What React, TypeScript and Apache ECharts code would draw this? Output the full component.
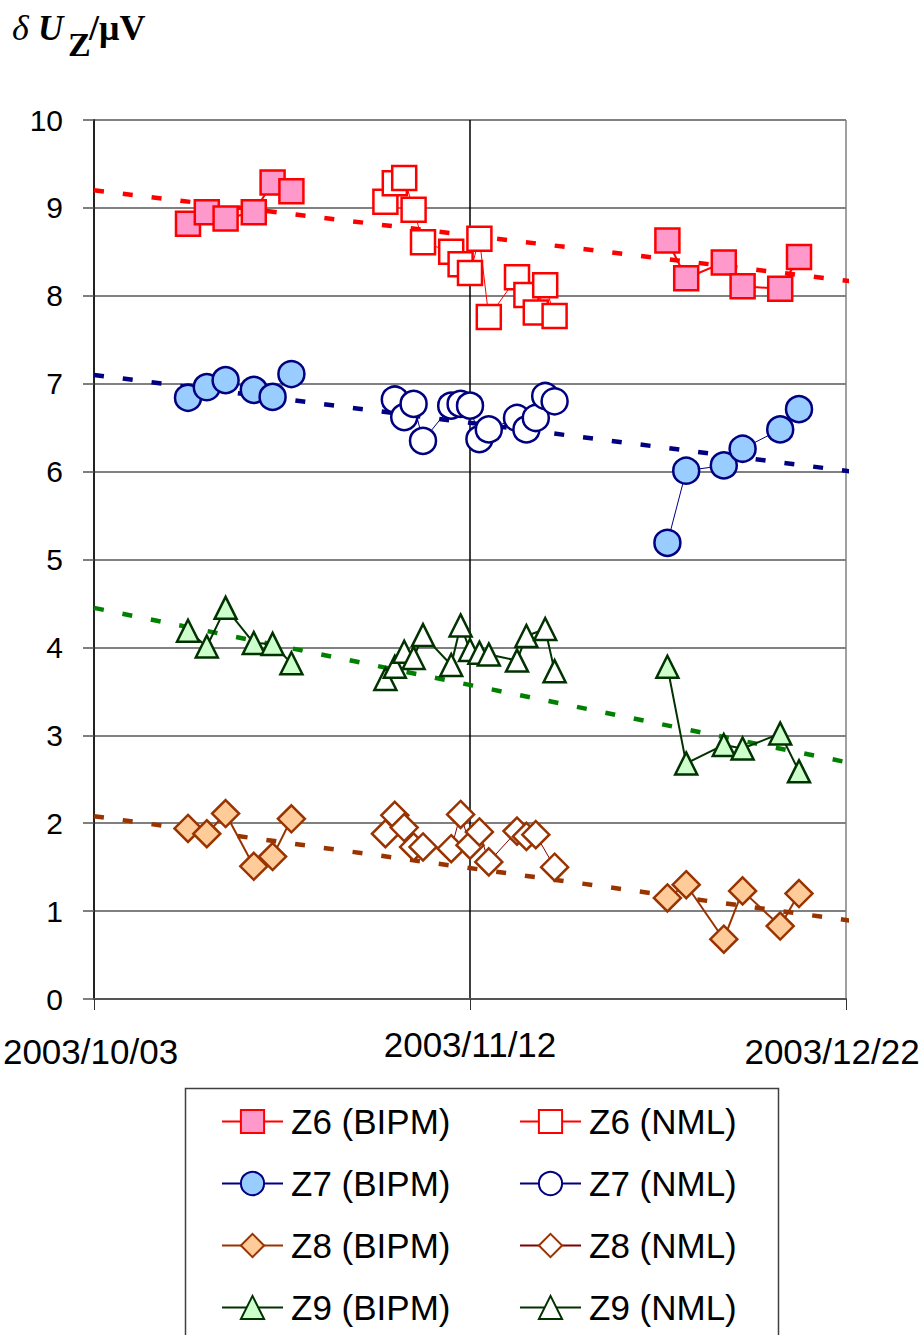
import React, { useEffect, useRef } from 'react';
import * as echarts from 'echarts';

// ---------- data ----------
const START_DATE = '2003/10/03';
const xTickDates = ['2003/10/03', '2003/11/12', '2003/12/22'];

const bipmDates = [
  '2003/10/13', '2003/10/15', '2003/10/17', '2003/10/20', '2003/10/22', '2003/10/24',
  '2003/12/03', '2003/12/05', '2003/12/09', '2003/12/11', '2003/12/15', '2003/12/17',
];
const z6Bipm = [8.82, 8.95, 8.88, 8.95, 9.29, 9.19, 8.63, 8.2, 8.38, 8.11, 8.08, 8.44];
const z7Bipm = [6.84, 6.96, 7.04, 6.93, 6.85, 7.11, 5.19, 6.01, 6.07, 6.26, 6.48, 6.71];
const z8Bipm = [1.94, 1.88, 2.11, 1.51, 1.62, 2.05, 1.15, 1.3, 0.68, 1.23, 0.83, 1.2];
const z9Bipm = [4.19, 4.01, 4.45, 4.05, 4.04, 3.82, 3.78, 2.68, 2.89, 2.85, 3.02, 2.59];

const z6NmlDates = [
  '2003/11/03', '2003/11/04', '2003/11/05', '2003/11/06', '2003/11/07', '2003/11/10', '2003/11/11',
  '2003/11/12', '2003/11/13', '2003/11/14', '2003/11/17', '2003/11/18', '2003/11/19', '2003/11/20', '2003/11/21',
];
const z6Nml = [9.07, 9.28, 9.34, 8.98, 8.61, 8.5, 8.36, 8.26, 8.65, 7.76, 8.21, 8.01, 7.81, 8.12, 7.77];

const z7NmlDates = [
  '2003/11/04', '2003/11/05', '2003/11/06', '2003/11/07', '2003/11/10', '2003/11/11', '2003/11/12',
  '2003/11/13', '2003/11/14', '2003/11/17', '2003/11/18', '2003/11/19', '2003/11/20', '2003/11/21',
];
const z7Nml = [6.82, 6.62, 6.77, 6.35, 6.75, 6.77, 6.75, 6.37, 6.48, 6.61, 6.48, 6.61, 6.86, 6.8];

const z8NmlDates = [
  '2003/11/03', '2003/11/04', '2003/11/05', '2003/11/06', '2003/11/07', '2003/11/10', '2003/11/11',
  '2003/11/12', '2003/11/13', '2003/11/14', '2003/11/17', '2003/11/18', '2003/11/19', '2003/11/21',
];
const z8Nml = [1.88, 2.09, 1.95, 1.73, 1.73, 1.71, 2.1, 1.75, 1.9, 1.56, 1.91, 1.85, 1.87, 1.5];

const z9NmlDates = [
  '2003/11/03', '2003/11/04', '2003/11/05', '2003/11/06', '2003/11/07', '2003/11/10', '2003/11/11',
  '2003/11/12', '2003/11/13', '2003/11/14', '2003/11/17', '2003/11/18', '2003/11/20', '2003/11/21',
];
const z9Nml = [3.64, 3.78, 3.95, 3.88, 4.14, 3.8, 4.25, 3.97, 3.94, 3.92, 3.85, 4.13, 4.21, 3.73];

// trend lines (start / end)
const trendDates = ['2003/10/03', '2003/12/30'];
const z6Trend = [9.2, 8.07];
const z7Trend = [7.1, 5.9];
const z8Trend = [2.08, 0.78];
const z9Trend = [4.45, 2.52];

// ---------- helpers ----------
const DAY = 86400000;
function toUTC(s: string) {
  const [y, m, d] = s.split('/').map(Number);
  return Date.UTC(y, m - 1, d);
}
const START = toUTC(START_DATE);
function dayOf(s: string) {
  return Math.round((toUTC(s) - START) / DAY);
}
function fmt(v: number) {
  const d = new Date(START + v * DAY);
  const p = (n: number) => (n < 10 ? '0' + n : '' + n);
  return d.getUTCFullYear() + '/' + p(d.getUTCMonth() + 1) + '/' + p(d.getUTCDate());
}
// pairs; break the line where the gap between measurement campaigns is large
function pairs(dates: string[], vals: number[]) {
  const out: any[] = [];
  for (let i = 0; i < dates.length; i++) {
    const d = dayOf(dates[i]);
    if (i > 0 && d - dayOf(dates[i - 1]) > 10) out.push([d - 1, '-']);
    out.push([d, vals[i]]);
  }
  return out;
}

const SANS = "'Liberation Sans', Arial, sans-serif";
const SERIF = "'Liberation Serif', 'Times New Roman', serif";

export default function App() {
  const ref = useRef<HTMLDivElement>(null);
  useEffect(() => {
    if (!ref.current) return;
    const chart = echarts.init(ref.current, undefined, { renderer: 'svg' });

    const dataSeries = (
      name: string,
      dates: string[],
      vals: number[],
      symbol: string,
      size: number,
      fill: string,
      border: string,
      lineColor: string,
      lineWidth: number,
      borderWidth: number
    ) => ({
      type: 'line',
      name,
      data: pairs(dates, vals),
      symbol,
      symbolSize: size,
      showSymbol: true,
      showAllSymbol: true,
      connectNulls: false,
      itemStyle: { color: fill, borderColor: border, borderWidth, opacity: 1 },
      lineStyle: { color: lineColor, width: lineWidth },
      emphasis: { disabled: true },
      silent: true,
      z: 3,
    });

    const trendSeries = (name: string, vals: number[], color: string) => ({
      type: 'line',
      name,
      data: trendDates.map((d, i) => [dayOf(d), vals[i]]),
      symbol: 'none',
      clip: false,
      lineStyle: { color, width: 4.5, type: [10, 19] },
      emphasis: { disabled: true },
      silent: true,
      z: 2,
    });

    const tickLabelStyle = { fontSize: 35, fontFamily: SANS, color: '#000' };

    const legendBase = {
      orient: 'vertical',
      top: 1099,
      itemWidth: 61,
      itemHeight: 29,
      itemGap: 27,
      selectedMode: false,
      textStyle: { fontSize: 35, fontFamily: SANS, color: '#000', padding: [0, 0, 0, 3] },
    };

    chart.setOption({
      animation: false,
      backgroundColor: '#ffffff',
      grid: { left: 94, top: 120, right: 77, bottom: 336, containLabel: false, outerBoundsMode: 'none' },
      xAxis: {
        type: 'value',
        min: 0,
        max: 80,
        interval: 40,
        axisLine: { show: true, lineStyle: { color: '#555555', width: 2 } },
        axisTick: { show: true, length: 11, lineStyle: { color: '#333333', width: 1 } },
        splitLine: { show: true, lineStyle: { color: ['#000000', '#000000', '#808080'], width: 1.5 } },
        axisLabel: {
          margin: 28,
          hideOverlap: false,
          formatter: (v: number) => {
            const s = fmt(v);
            if (s === xTickDates[0]) return '{l|' + s + '}';
            if (s === xTickDates[2]) return '{r|' + s + '}';
            return '{m|' + s + '}';
          },
          rich: {
            l: { ...tickLabelStyle, padding: [7, 7, 0, 0] },
            m: { ...tickLabelStyle, padding: [0, 0, 0, 0] },
            r: { ...tickLabelStyle, padding: [7, 28, 0, 0] },
          },
        },
      },
      yAxis: {
        type: 'value',
        min: 0,
        max: 10,
        interval: 1,
        axisLine: { show: true, lineStyle: { color: '#222222', width: 2 } },
        axisTick: { show: true, length: 11, lineStyle: { color: '#555555', width: 1.5 } },
        splitLine: { show: true, lineStyle: { color: '#808080', width: 2 } },
        axisLabel: { margin: 31, fontSize: 30, fontFamily: SANS, color: '#000' },
      },
      legend: [
        { ...legendBase, left: 216, data: ['Z6 (BIPM)', 'Z7 (BIPM)', 'Z8 (BIPM)', 'Z9 (BIPM)'] },
        { ...legendBase, left: 514, data: ['Z6 (NML)', 'Z7 (NML)', 'Z8 (NML)', 'Z9 (NML)'] },
      ],
      graphic: [
        {
          type: 'rect',
          shape: { x: 185.5, y: 1088.5, width: 593, height: 300 },
          style: { fill: '#ffffff', stroke: '#404040', lineWidth: 1.5 },
          z: -1,
          silent: true,
        },
        { type: 'text', x: 12, y: 28, style: { text: 'δ', font: `italic 36px ${SERIF}`, fill: '#000', verticalAlign: 'middle' } },
        { type: 'text', x: 38, y: 28, style: { text: 'U', font: `italic bold 35px ${SERIF}`, fill: '#000', verticalAlign: 'middle' } },
        { type: 'text', x: 68, y: 44, style: { text: 'Z', font: `bold 34px ${SERIF}`, fill: '#000', verticalAlign: 'middle' } },
        { type: 'text', x: 89, y: 28, style: { text: '/μV', font: `bold 36px ${SERIF}`, fill: '#000', verticalAlign: 'middle' } },
      ],
      series: [
        trendSeries('Z6 trend', z6Trend, '#FF0000'),
        trendSeries('Z7 trend', z7Trend, '#000080'),
        trendSeries('Z8 trend', z8Trend, '#993300'),
        trendSeries('Z9 trend', z9Trend, '#008000'),
        dataSeries('Z6 (BIPM)', bipmDates, z6Bipm, 'rect', 24, '#FF99CC', '#FF0000', '#FF0000', 2, 2.5),
        dataSeries('Z6 (NML)', z6NmlDates, z6Nml, 'rect', 24, '#FFFFFF', '#FF0000', '#FF0000', 1, 2.5),
        dataSeries('Z7 (BIPM)', bipmDates, z7Bipm, 'circle', 26, '#99CCFF', '#000080', '#000080', 1, 2.5),
        dataSeries('Z7 (NML)', z7NmlDates, z7Nml, 'circle', 26, '#FFFFFF', '#000080', '#000080', 1, 2.5),
        dataSeries('Z8 (BIPM)', bipmDates, z8Bipm, 'diamond', 27, '#FFCC99', '#993300', '#993300', 2, 2.5),
        dataSeries('Z8 (NML)', z8NmlDates, z8Nml, 'diamond', 27, '#FFFFFF', '#993300', '#800000', 1, 2.5),
        dataSeries('Z9 (BIPM)', bipmDates, z9Bipm, 'triangle', 22, '#CCFFCC', '#003300', '#003300', 2, 2.5),
        dataSeries('Z9 (NML)', z9NmlDates, z9Nml, 'triangle', 22, '#FFFFFF', '#003300', '#003300', 2, 2.5),
      ],
    });
    return () => chart.dispose();
  }, []);
  return (
    <div
      ref={ref}
      style={{ position: 'absolute', left: 0, top: 0, width: 923, height: 1335, background: '#fff' }}
    />
  );
}
